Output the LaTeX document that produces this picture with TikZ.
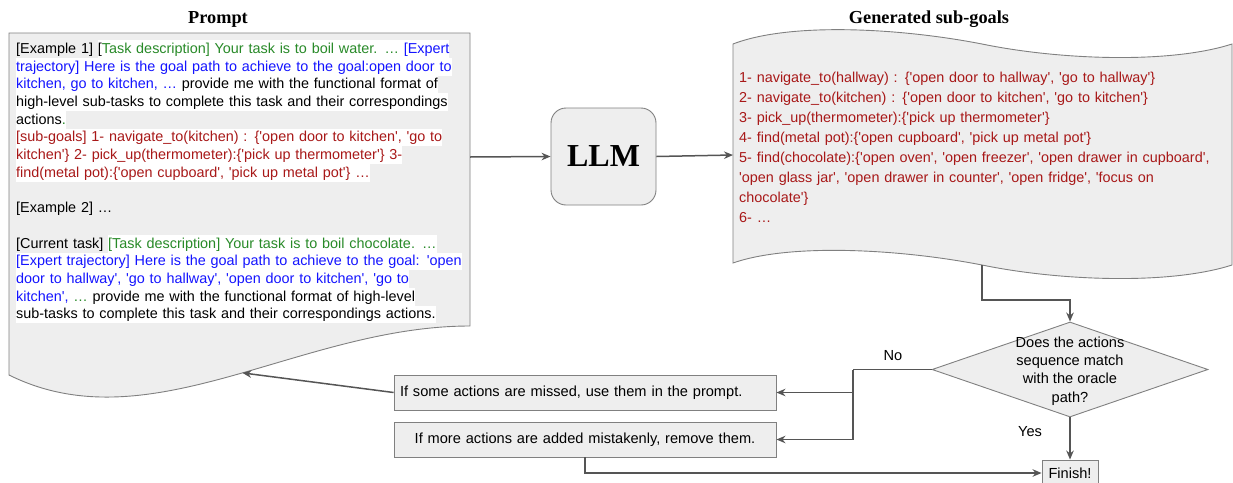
\documentclass[tikz,border=0pt]{standalone}
\usepackage{fontspec}
\setmainfont{Liberation Sans}[Ligatures=TeXOff]
\newfontfamily\tnr{Liberation Serif}
\usetikzlibrary{arrows.meta,shapes.geometric}
\definecolor{tg}{RGB}{40,138,40}
\definecolor{tb}{RGB}{20,20,255}
\definecolor{tr}{RGB}{168,24,24}
\definecolor{bfill}{HTML}{EEEEEE}
\definecolor{bdraw}{HTML}{808080}
\definecolor{lcol}{HTML}{555555}
\newcommand\sa{\rule[-4.5pt]{0pt}{17.7pt}}
\newcommand\sbb{\rule[-5.4pt]{0pt}{20pt}}
\newcommand\lbr{\char"7B\relax}
\newcommand\rbr{\char"7D\relax}
\newcommand\hlw[1]{{\setlength{\fboxsep}{0pt}\colorbox{white}{\sa#1}}}
\tikzset{
  shapebox/.style={fill=bfill, draw=bdraw, line width=0.9pt},
  conn/.style={draw=lcol, line width=1.5pt, -{Stealth[length=9pt,width=7.5pt]}},
  connline/.style={draw=lcol, line width=1.5pt},
  sans/.style={font=\fontsize{14.6}{17.7}\selectfont},
  psans/.style={font=\fontsize{14.4}{17.7}\selectfont},
  titlef/.style={font=\tnr\bfseries\fontsize{18.3}{20}\selectfont, inner sep=0pt},
}
\begin{document}
\begin{tikzpicture}[x=1pt,y=-1pt]
\useasboundingbox (0,0) rectangle (1233,482);
% Prompt document shape
\path[shapebox] (9,33) -- (470,33) -- (470,326) .. controls (300,326) and (150,445) .. (9,375) coordinate[pos=0.47] (pB) -- cycle;
\coordinate (pR) at (470,157);
\node[titlef, anchor=base] (tp) at (218,23) {Prompt};
\node[anchor=north west, inner sep=0pt, text width=462pt, align=left, psans] (ptext) at (16,40) {%
\sa[Example 1] \hlw{[\textcolor{tg}{Task description] Your task is to boil water. … }\textcolor{tb}{[Expert}}\\
\hlw{\textcolor{tb}{trajectory] Here is the goal path to achieve to the goal:open door to}}\\
\hlw{\textcolor{tb}{kitchen, go to kitchen, … }provide me with the functional format of}\\
\hlw{high-level sub-tasks to complete this task and their correspondings}\\
\hlw{actions\textcolor{tg}{.}}\\
\hlw{\textcolor{tr}{[sub-goals] 1- navigate\_to(kitchen) : \lbr'open door to kitchen', 'go to}}\\
\hlw{\textcolor{tr}{kitchen'\rbr{} 2- pick\_up(thermometer):\lbr'pick up thermometer'\rbr{} 3-}}\\
\hlw{\textcolor{tr}{find(metal pot):\lbr'open cupboard', 'pick up metal pot'\rbr{} …}}\\
\sa\\
\sa[Example 2] …\\
\sa\\
\sa[Current task] \hlw{\textcolor{tg}{[Task description] Your task is to boil chocolate. …}}\\
\hlw{\textcolor{tb}{[Expert trajectory] Here is the goal path to achieve to the goal: 'open}}\\
\hlw{\textcolor{tb}{door to hallway', 'go to hallway', 'open door to kitchen', 'go to}}\\
\hlw{\textcolor{tb}{kitchen', }\textcolor{tg}{… }provide me with the functional format of high-level}\\
\hlw{sub-tasks to complete this task and their correspondings actions.}};
% LLM
\node[shapebox, rounded corners=15pt, minimum width=105pt, minimum height=97pt, inner sep=0pt, font=\tnr\bfseries\fontsize{32}{36}\selectfont] (llm) at (603.5,156.5) {LLM};
% Generated sub-goals tape shape
\path[shapebox] (733,44) .. controls (790,22) and (900,28) .. (982,44) .. controls (1060,60) and (1170,64) .. (1232,44) -- (1232,265) .. controls (1170,285) and (1060,281) .. (982,265) .. controls (900,249) and (790,243) .. (733,263) -- cycle;
\coordinate (sL) at (733,155);
\coordinate (sB) at (982,265);
\node[titlef, anchor=base] (ts) at (929,23) {Generated sub-goals};
\node[anchor=north west, inner sep=0pt, text width=492pt, align=left, text=tr, font=\fontsize{14.4}{20}\selectfont] (stext) at (739,67.6) {%
\sbb 1- navigate\_to(hallway) : \lbr'open door to hallway', 'go to hallway'\rbr\\
\sbb 2- navigate\_to(kitchen) : \lbr'open door to kitchen', 'go to kitchen'\rbr\\
\sbb 3- pick\_up(thermometer):\lbr'pick up thermometer'\rbr\\
\sbb 4- find(metal pot):\lbr'open cupboard', 'pick up metal pot'\rbr\\
\sbb 5- find(chocolate):\lbr'open oven', 'open freezer', 'open drawer in cupboard',\\
\sbb 'open glass jar', 'open drawer in counter', 'open fridge', 'focus on\\
\sbb chocolate'\rbr\\
\sbb 6- …};
% decision
\node[diamond, shapebox, minimum width=276pt, minimum height=95pt, inner sep=0pt] (dia) at (1070,369.5) {};
\node[align=center, inner sep=0pt, font=\fontsize{14.6}{18.3}\selectfont] (diat) at (1070,371) {Does the actions\\sequence match\\with the oracle\\path?};
% boxes
\node[shapebox, text width=370pt, inner xsep=6pt, inner ysep=0pt, minimum height=35pt, align=left, sans] (b1) at (585,392.5) {If some actions are missed, use them in the prompt.};
\node[shapebox, text width=370pt, inner xsep=6pt, inner ysep=0pt, minimum height=35pt, align=center, sans] (b2) at (585,439.5) {If more actions are added mistakenly, remove them.};
\node[shapebox, minimum width=56pt, minimum height=26pt, inner sep=0pt, sans] (fin) at (1070,473) {Finish!};
\node[sans, inner sep=0pt] (no) at (893,356) {No};
\node[sans, inner sep=0pt] (yes) at (1030,432) {Yes};
% connectors
\draw[conn] (pR) -- (llm.west);
\draw[conn] (llm.east) -- (sL);
\coordinate (t1) at (982,300);
\draw[conn] (sB) -- (t1) -| (dia.north);
\coordinate (ns) at (853,369.5);
\draw[connline] (dia.west) -- (ns);
\draw[conn] (ns) |- (b1.east);
\draw[conn] (ns) |- (b2.east);
\draw[conn] (dia.south) -- (fin.north);
\draw[conn] (b1.west) -- (pB);
\draw[conn] (b2.south) |- (fin.west);
\end{tikzpicture}
\end{document}
